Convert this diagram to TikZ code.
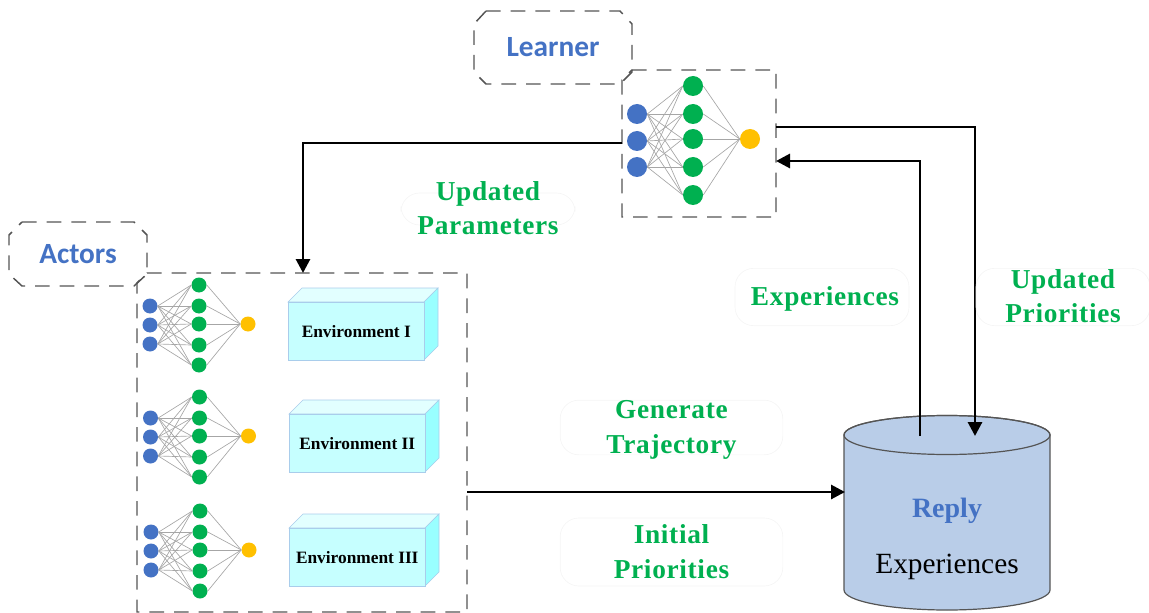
\documentclass[tikz,border=0pt]{standalone}
\usepackage{fontspec}
\setmainfont{Liberation Serif}
\newfontfamily\calibrifont{Carlito}
\usetikzlibrary{calc}
\usetikzlibrary{arrows.meta}
\definecolor{netblue}{HTML}{4472C4}
\definecolor{netgreen}{HTML}{00B050}
\definecolor{netgold}{HTML}{FFC000}
\definecolor{envfront}{HTML}{C6FFFF}
\definecolor{envtop}{HTML}{E2FFFF}
\definecolor{envside}{HTML}{99FFFF}
\definecolor{envline}{HTML}{A9CDEB}
\definecolor{replyfill}{HTML}{B9CDE8}
\definecolor{dashgray}{HTML}{555555}
\tikzstyle{neuron}=[
  circle,
  inner sep=0pt
]
\tikzstyle{synapse}=[
  draw=gray!70,
  line width=0.5pt
]
\tikzstyle{frame}=[
  draw=dashgray,
  line width=1.1pt,
  dash pattern=on 11pt off 7.5pt
]
\tikzstyle{tagbox}=[
  font=\calibrifont\bfseries\fontsize{22}{26}\selectfont,
  text=netblue
]
\tikzstyle{capbox}=[
  rounded corners=14pt,
  draw=black!4,
  line width=0.5pt,
  inner sep=0pt
]
\tikzstyle{caption}=[
  align=center,
  font=\bfseries\fontsize{20.5}{26}\selectfont\addfontfeatures{LetterSpace=2.5},
  text=netgreen,
  inner sep=0pt
]
\tikzstyle{link}=[
  -{Triangle[length=10.5pt,width=10.5pt]},
  line width=2.2pt
]
\tikzstyle{envlabel}=[
  font=\bfseries\fontsize{13}{15}\selectfont
]
% #1 name, #2 x of inputs, #3 x of hidden, #4 x of output, #5 neuron size
% #6 inputs y, #7 hidden y, #8 output y
\newcommand{\drawnet}[8]{{
  \foreach \h [count=\j] in {#7} {
    \node[neuron, fill=netgreen, minimum size=#5] (#1h\j) at (#3, \h) {};
  }
  \node[neuron, fill=netgold, minimum size=#5] (#1o) at (#4, #8) {};
  \foreach \i [count=\k] in {#6} {
    \node[neuron, fill=netblue, minimum size=#5] (#1i\k) at (#2, \i) {};
  }
  \foreach \j in {1,...,5} {
    \foreach \k in {1,2,3} {
      \draw[synapse] (#1i\k.east) -- (#1h\j.west);
    }
    \draw[synapse] (#1h\j.east) -- (#1o.west);
  }
}}
% front box corner and size, then its label
\newcommand{\drawenv}[6]{{
  \fill[envtop, draw=envline] (#2, #3) -- ++(14, -14) -- ++(#4, 0) -- ++(-14, 14) -- cycle;
  \fill[envside, draw=envline] (#2 + #4, #3) -- ++(14, -14) -- ++(0, #5) -- ++(-14, 14) -- cycle;
  \node[draw=envline, fill=envfront, envlabel, minimum width=#4*0.75pt, minimum height=#5*0.75pt,
        inner sep=0pt, anchor=north west] (#1) at (#2, #3) {#6};
}}
\begin{document}
\begin{tikzpicture}[x=0.75pt, y=-0.75pt]
  \useasboundingbox (0, 0) rectangle (1149, 613);

  % learner
  \draw[frame] (632, 70) -- (776, 70) -- (776, 217) -- (622, 217) -- (622, 80) -- cycle;
  \coordinate (learnerwest) at (622, 143);
  \coordinate (learnerout) at (776, 127);
  \coordinate (learnerin) at (776, 161);
  \drawnet{lrn}{637}{693}{750}{20pt*0.75}{114,141,167}{86,114,139,167,195}{139}
  \draw[frame] (486, 11) -- (620, 11) -- (632, 24) -- (632, 72) -- (620, 84) -- (486, 84)
        -- (474, 72) -- (474, 24) -- cycle;
  \node[tagbox] (learnertag) at (553, 47.5) {Learner};

  % actors
  \draw[frame] (147, 273) -- (467, 273) -- (467, 612) -- (137, 612) -- (137, 283) -- cycle;
  \coordinate (actortop) at (303, 273);
  \coordinate (actoreast) at (467, 492);
  \drawnet{acta}{150}{199}{248}{15pt*0.75}{306,325,344}{285,306,324,345,365}{324}
  \drawnet{actb}{150.5}{199.5}{248.5}{15pt*0.75}{418,437,456}{397,418,436,457,477}{436}
  \drawnet{actc}{151}{200}{249}{15pt*0.75}{532,551,570}{511,532,550,571,591}{550}
  \drawenv{enva}{288}{302}{136}{58}{Environment I}
  \drawenv{envb}{289}{414}{136}{58}{Environment II}
  \drawenv{envc}{289}{528}{136}{58}{Environment III}
  \draw[frame] (22, 222) -- (134, 222) -- (147, 235) -- (147, 274) -- (134, 286) -- (22, 286)
        -- (9, 274) -- (9, 235) -- cycle;
  \node[tagbox] (actortag) at (78, 254) {Actors};

  % reply
  \draw[fill=replyfill, draw=dashgray, line width=0.9pt] (844, 435) -- (844, 590)
        arc [start angle=180, end angle=0, x radius=103, y radius=20] -- (1050, 435)
        arc [start angle=0, end angle=-180, x radius=103, y radius=19.5] -- cycle;
  \draw[draw=dashgray, line width=0.9pt] (947, 435) ellipse [x radius=103, y radius=19.5];
  \node[font=\bfseries\fontsize{21}{24}\selectfont, text=netblue] (replyname) at (947, 511) {Reply};
  \node[font=\fontsize{22}{24}\selectfont] (replydata) at (947, 567) {Experiences};
  \coordinate (replyup) at (920, 436);
  \coordinate (replydown) at (975, 436);
  \coordinate (replywest) at (845, 492);

  \draw[link] (learnerwest) -| (actortop);
  \draw[link] (learnerout) -| (replydown);
  \draw[link] (replyup) |- (learnerin);
  \draw[link] (actoreast) -- (replywest);

  \node[capbox, minimum width=130.5pt, minimum height=24pt] (parambox) at (488, 209) {};
  \node[capbox, minimum width=130.5pt, minimum height=43pt] (expbox) at (822, 297) {};
  \node[capbox, minimum width=130.5pt, minimum height=43pt] (priobox) at (1063, 297) {};
  \node[capbox, minimum width=167pt, minimum height=41pt] (genbox) at (671.5, 427.5) {};
  \node[capbox, minimum width=167pt, minimum height=51pt] (initbox) at (671.5, 552) {};
  \node[caption] (paramtag) at (488, 208) {Updated\\Parameters};
  \node[caption] (exptag) at (825, 298.5) {Experiences};
  \node[caption] (priotag) at (1063, 296) {Updated\\Priorities};
  \node[caption] (gentag) at (671.5, 430) {Generate\\Trajectory};
  \node[caption] (inittag) at (671.5, 551.5) {Initial\\Priorities};
\end{tikzpicture}
\end{document}
